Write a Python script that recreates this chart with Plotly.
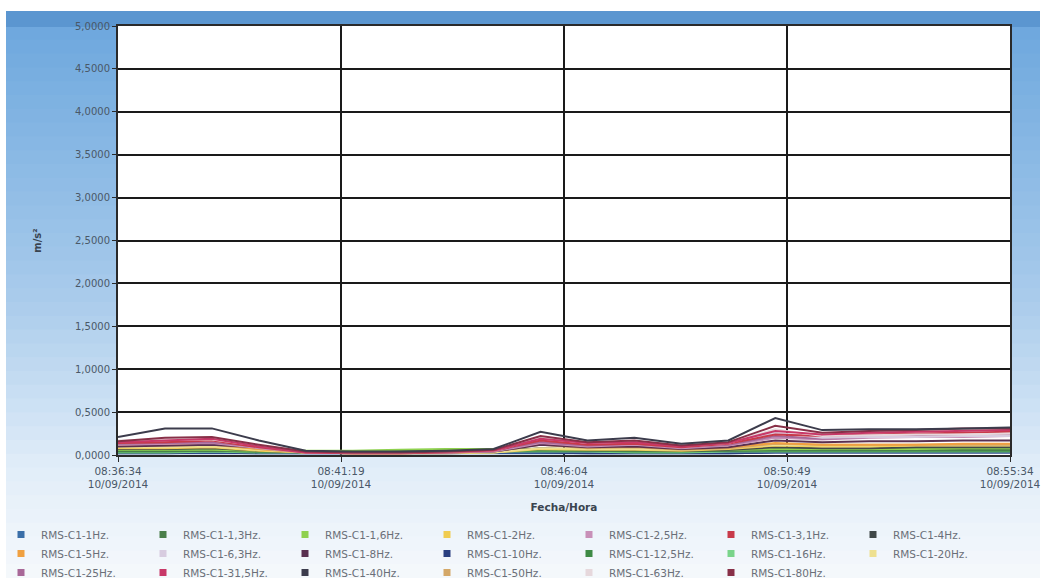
import plotly.graph_objects as go

# ---------------- data ----------------
times = [
    "2014-09-10 08:36:34", "2014-09-10 08:37:34", "2014-09-10 08:38:34", "2014-09-10 08:39:34",
    "2014-09-10 08:40:34", "2014-09-10 08:41:34", "2014-09-10 08:42:34", "2014-09-10 08:43:34",
    "2014-09-10 08:44:34", "2014-09-10 08:45:34", "2014-09-10 08:46:34", "2014-09-10 08:47:34",
    "2014-09-10 08:48:34", "2014-09-10 08:49:34", "2014-09-10 08:50:34", "2014-09-10 08:51:34",
    "2014-09-10 08:52:34", "2014-09-10 08:53:34", "2014-09-10 08:54:34", "2014-09-10 08:55:34",
]

x_tick_vals = ["2014-09-10 08:36:34", "2014-09-10 08:41:19", "2014-09-10 08:46:04",
               "2014-09-10 08:50:49", "2014-09-10 08:55:34"]
x_tick_text = ["08:36:34<br>10/09/2014", "08:41:19<br>10/09/2014", "08:46:04<br>10/09/2014",
               "08:50:49<br>10/09/2014", "08:55:34<br>10/09/2014"]

rms_1hz   = [0.02, 0.02, 0.02, 0.02, 0.02, 0.02, 0.02, 0.02, 0.02, 0.02, 0.02, 0.02, 0.02, 0.02, 0.03, 0.03, 0.03, 0.03, 0.03, 0.03]
rms_1_3hz = [0.05, 0.05, 0.05, 0.04, 0.04, 0.04, 0.05, 0.06, 0.06, 0.06, 0.05, 0.05, 0.05, 0.05, 0.06, 0.06, 0.06, 0.06, 0.06, 0.06]
rms_1_6hz = [0.06, 0.06, 0.06, 0.05, 0.05, 0.05, 0.06, 0.07, 0.07, 0.07, 0.06, 0.06, 0.06, 0.06, 0.07, 0.07, 0.07, 0.07, 0.08, 0.08]
rms_2hz   = [0.08, 0.08, 0.09, 0.05, 0.03, 0.02, 0.02, 0.02, 0.03, 0.07, 0.06, 0.06, 0.05, 0.07, 0.11, 0.10, 0.10, 0.11, 0.11, 0.11]
rms_2_5hz = [0.12, 0.13, 0.14, 0.08, 0.03, 0.02, 0.02, 0.03, 0.04, 0.14, 0.10, 0.12, 0.08, 0.11, 0.20, 0.18, 0.20, 0.21, 0.21, 0.22]
rms_3_1hz = [0.14, 0.15, 0.17, 0.09, 0.03, 0.02, 0.02, 0.03, 0.05, 0.17, 0.12, 0.13, 0.09, 0.13, 0.24, 0.22, 0.24, 0.25, 0.26, 0.27]
rms_4hz   = [0.07, 0.07, 0.08, 0.05, 0.03, 0.02, 0.02, 0.03, 0.04, 0.08, 0.06, 0.06, 0.05, 0.06, 0.09, 0.08, 0.08, 0.09, 0.09, 0.09]
rms_5hz   = [0.12, 0.12, 0.13, 0.07, 0.03, 0.02, 0.02, 0.03, 0.04, 0.13, 0.09, 0.10, 0.07, 0.09, 0.14, 0.12, 0.12, 0.12, 0.13, 0.13]
rms_6_3hz = [0.15, 0.16, 0.17, 0.10, 0.03, 0.03, 0.03, 0.03, 0.05, 0.18, 0.13, 0.14, 0.09, 0.13, 0.26, 0.20, 0.21, 0.21, 0.22, 0.22]
rms_8hz   = [0.10, 0.11, 0.12, 0.09, 0.04, 0.03, 0.03, 0.03, 0.04, 0.12, 0.09, 0.10, 0.07, 0.09, 0.17, 0.15, 0.16, 0.16, 0.17, 0.17]
rms_10hz  = [0.02, 0.02, 0.03, 0.02, 0.02, 0.02, 0.02, 0.02, 0.03, 0.03, 0.02, 0.02, 0.02, 0.02, 0.03, 0.03, 0.03, 0.03, 0.03, 0.03]
rms_12_5hz = [0.04, 0.04, 0.05, 0.04, 0.04, 0.04, 0.05, 0.05, 0.05, 0.05, 0.05, 0.04, 0.04, 0.05, 0.05, 0.05, 0.05, 0.05, 0.05, 0.05]
rms_16hz  = [0.03, 0.03, 0.04, 0.03, 0.03, 0.03, 0.04, 0.04, 0.04, 0.04, 0.04, 0.03, 0.03, 0.04, 0.04, 0.04, 0.04, 0.04, 0.04, 0.04]
rms_20hz  = [0.09, 0.09, 0.10, 0.06, 0.03, 0.02, 0.02, 0.03, 0.03, 0.08, 0.07, 0.07, 0.06, 0.08, 0.12, 0.11, 0.11, 0.12, 0.12, 0.12]
rms_25hz  = [0.13, 0.14, 0.15, 0.10, 0.04, 0.03, 0.03, 0.03, 0.05, 0.15, 0.11, 0.13, 0.09, 0.12, 0.22, 0.19, 0.21, 0.22, 0.23, 0.23]
rms_31_5hz = [0.15, 0.17, 0.19, 0.10, 0.03, 0.03, 0.03, 0.04, 0.05, 0.19, 0.14, 0.15, 0.10, 0.14, 0.28, 0.24, 0.26, 0.27, 0.28, 0.29]
rms_40hz  = [0.21, 0.31, 0.31, 0.17, 0.05, 0.04, 0.04, 0.05, 0.07, 0.27, 0.17, 0.20, 0.13, 0.17, 0.43, 0.29, 0.30, 0.30, 0.31, 0.32]
rms_50hz  = [0.11, 0.11, 0.12, 0.07, 0.03, 0.02, 0.02, 0.03, 0.04, 0.12, 0.08, 0.09, 0.06, 0.08, 0.13, 0.12, 0.12, 0.12, 0.12, 0.12]
rms_63hz  = [0.17, 0.18, 0.18, 0.11, 0.04, 0.03, 0.03, 0.04, 0.05, 0.20, 0.14, 0.16, 0.11, 0.14, 0.30, 0.22, 0.23, 0.24, 0.24, 0.25]
rms_80hz  = [0.16, 0.20, 0.21, 0.12, 0.04, 0.03, 0.03, 0.04, 0.06, 0.22, 0.15, 0.17, 0.11, 0.15, 0.34, 0.26, 0.28, 0.29, 0.31, 0.31]

series_names = ["RMS-C1-1Hz.", "RMS-C1-1,3Hz.", "RMS-C1-1,6Hz.", "RMS-C1-2Hz.", "RMS-C1-2,5Hz.",
                "RMS-C1-3,1Hz.", "RMS-C1-4Hz.", "RMS-C1-5Hz.", "RMS-C1-6,3Hz.", "RMS-C1-8Hz.",
                "RMS-C1-10Hz.", "RMS-C1-12,5Hz.", "RMS-C1-16Hz.", "RMS-C1-20Hz.", "RMS-C1-25Hz.",
                "RMS-C1-31,5Hz.", "RMS-C1-40Hz.", "RMS-C1-50Hz.", "RMS-C1-63Hz.", "RMS-C1-80Hz."]
series_values = [rms_1hz, rms_1_3hz, rms_1_6hz, rms_2hz, rms_2_5hz, rms_3_1hz, rms_4hz,
                 rms_5hz, rms_6_3hz, rms_8hz, rms_10hz, rms_12_5hz, rms_16hz, rms_20hz,
                 rms_25hz, rms_31_5hz, rms_40hz, rms_50hz, rms_63hz, rms_80hz]
series_colors = ["#3a6fa8", "#4a7f4a", "#8fd14f", "#f0cc50", "#c890b8", "#c83a4a", "#404848",
                 "#f0a040", "#d8cce0", "#5a3050", "#2a3f80", "#3f8a45", "#7ad48a", "#eee090",
                 "#a86898", "#c83868", "#3c3c4c", "#d4a868", "#e6d8dc", "#883048"]

# drawing order (lowest first so the highest lines end on top)
draw_order = [0, 10, 12, 11, 1, 2, 6, 3, 13, 17, 7, 9, 4, 14, 8, 5, 18, 15, 19, 16]

# ---------------- figure ----------------
W, H = 1042, 578
L, R, T, B = 118, 32, 26, 123
pw, ph = W - L - R, H - T - B


def px_x(px):
    return (px - L) / pw


def px_y(py):
    return (H - B - py) / ph


fig = go.Figure()

for i in draw_order:
    fig.add_trace(go.Scatter(
        x=times, y=series_values[i], mode="lines", name=series_names[i],
        line=dict(color=series_colors[i], width=2), showlegend=False,
    ))

for name, color in zip(series_names, series_colors):
    fig.add_trace(go.Scatter(
        x=[None], y=[None], mode="markers", name=name,
        marker=dict(symbol="square", size=7, color=color),
    ))

# background decoration (photo-like blue frame)
shapes = []
stops = [(26, (110, 168, 222)), (300, (170, 204, 236)), (470, (226, 238, 249)), (578, (246, 249, 252))]
n = 40
y_start, y_end = 26, 578
for k in range(n):
    y0 = y_start + (y_end - y_start) * k / n
    y1 = y_start + (y_end - y_start) * (k + 1) / n + 1
    ym = (y0 + y1) / 2
    for s in range(len(stops) - 1):
        if stops[s][0] <= ym <= stops[s + 1][0]:
            f = (ym - stops[s][0]) / (stops[s + 1][0] - stops[s][0])
            c = tuple(int(stops[s][1][j] + (stops[s + 1][1][j] - stops[s][1][j]) * f) for j in range(3))
            break
    shapes.append(dict(type="rect", xref="paper", yref="paper", layer="below",
                       x0=px_x(6), x1=px_x(1040), y0=px_y(y1), y1=px_y(y0),
                       fillcolor="rgb(%d,%d,%d)" % c, line=dict(width=0)))
# header band
shapes.append(dict(type="rect", xref="paper", yref="paper", layer="below",
                   x0=px_x(6), x1=px_x(1040), y0=px_y(27), y1=px_y(11),
                   fillcolor="#5b96d0", line=dict(width=0)))
# white plot area
shapes.append(dict(type="rect", xref="paper", yref="paper", layer="below",
                   x0=0, x1=1, y0=0, y1=1, fillcolor="#ffffff", line=dict(width=0)))

fig.update_layout(
    width=W, height=H,
    margin=dict(l=L, r=R, t=T, b=B, autoexpand=False),
    paper_bgcolor="#ffffff",
    plot_bgcolor="#ffffff",
    separators=",.",
    font=dict(family="DejaVu Sans", size=10, color="#4a5868"),
    shapes=shapes,
    showlegend=True,
    legend=dict(
        orientation="h", xref="paper", yref="paper",
        x=px_x(1), y=px_y(520), xanchor="left", yanchor="top",
        entrywidth=97, entrywidthmode="pixels",
        font=dict(family="DejaVu Sans", size=10.5, color="#6a6f78"),
        bgcolor="rgba(0,0,0,0)", itemwidth=30, traceorder="normal",
    ),
    xaxis=dict(
        type="date",
        range=[times[0], times[-1]],
        tickvals=x_tick_vals, ticktext=x_tick_text,
        showgrid=True, gridcolor="#1a1a1a", gridwidth=1.6,
        showline=True, linecolor="#2a2a2a", linewidth=2, mirror=True,
        ticks="outside", ticklen=5, tickcolor="#2a2a2a",
        tickfont=dict(family="DejaVu Sans", size=10.5, color="#4a5868"),
        title=dict(text="<b>Fecha/Hora</b>", standoff=14,
                   font=dict(family="DejaVu Sans", size=10.5, color="#3a4450")),
        zeroline=False, automargin=False,
    ),
    yaxis=dict(
        range=[0, 5], dtick=0.5, tick0=0, tickformat=".4f",
        showgrid=True, gridcolor="#1a1a1a", gridwidth=1.6,
        showline=True, linecolor="#2a2a2a", linewidth=2, mirror=True,
        ticks="outside", ticklen=4, tickcolor="#2a2a2a",
        tickfont=dict(family="DejaVu Sans", size=10, color="#4a5868"),
        title=dict(text="<b>m/s²</b>", standoff=32,
                   font=dict(family="DejaVu Sans", size=10, color="#3a4450")),
        zeroline=False, automargin=False,
    ),
)

fig.write_html("out.html")
